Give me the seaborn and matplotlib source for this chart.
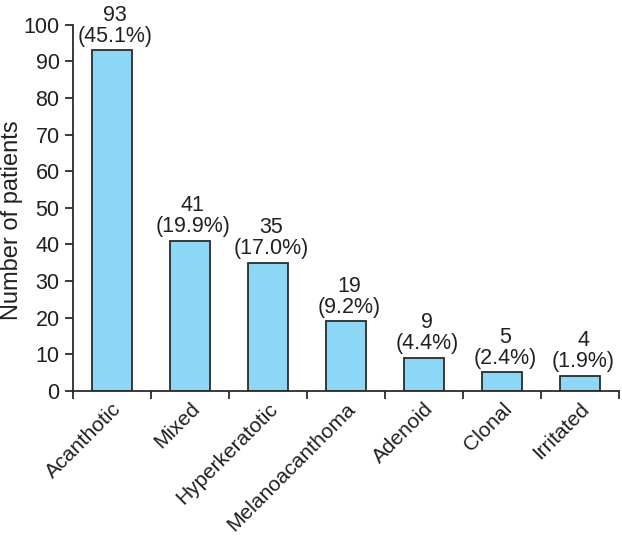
import matplotlib
matplotlib.use("Agg")
import matplotlib.pyplot as plt
import numpy as np
import pandas as pd
import seaborn as sns

categories = ["Acanthotic", "Mixed", "Hyperkeratotic", "Melanoacanthoma",
              "Adenoid", "Clonal", "Irritated"]
counts = [93, 41, 35, 19, 9, 5, 4]
percents = ["45.1%", "19.9%", "17.0%", "9.2%", "4.4%", "2.4%", "1.9%"]

sns.set_style("ticks")
plt.rcParams["font.family"] = ["Liberation Sans", "DejaVu Sans"]
INK = "#231f20"
FS = 15.5

df = pd.DataFrame({"type": categories, "patients": counts})

fig = plt.figure(figsize=(6.22, 5.39), dpi=100)
ax = fig.add_axes([0.117, 0.275, 0.878, 0.679])

sns.barplot(data=df, x="type", y="patients", color="#8dd7f7", width=0.51,
            edgecolor="#2b2b2b", linewidth=1.3, saturation=1, ax=ax)

for i, (n, p) in enumerate(zip(counts, percents)):
    ax.text(i + 0.04, n + 1.0, f"{n}\n({p})", ha="center", va="bottom",
            fontsize=FS, color=INK, linespacing=1.0)

ax.set_xlim(-0.5, 6.5)
ax.set_ylim(0, 100)
ax.set_yticks(np.arange(0, 101, 10))
ax.set_xticks(np.arange(-0.5, 7, 1), minor=True)
ax.tick_params(axis="x", which="major", length=0, pad=6)
ax.tick_params(axis="x", which="minor", length=6, width=1.3, color="#2b2b2b", direction="out")
ax.tick_params(axis="y", length=6, width=1.3, color="#2b2b2b", labelsize=FS, labelcolor=INK)
ax.set_xticks(range(len(categories)))
ax.set_xticklabels(categories, rotation=45, ha="right", rotation_mode="anchor",
                   fontsize=15, color=INK)

ax.set_xlabel("")
ax.set_ylabel("Number of patients", fontsize=17, color=INK, va="center")
ax.yaxis.set_label_coords(-0.112, 0.465)
sns.despine(ax=ax)
for side in ["left", "bottom"]:
    ax.spines[side].set_linewidth(1.3)
    ax.spines[side].set_color("#2b2b2b")
ax.spines["left"].set_bounds(0, 100)

fig.savefig("out.png", dpi=100)
